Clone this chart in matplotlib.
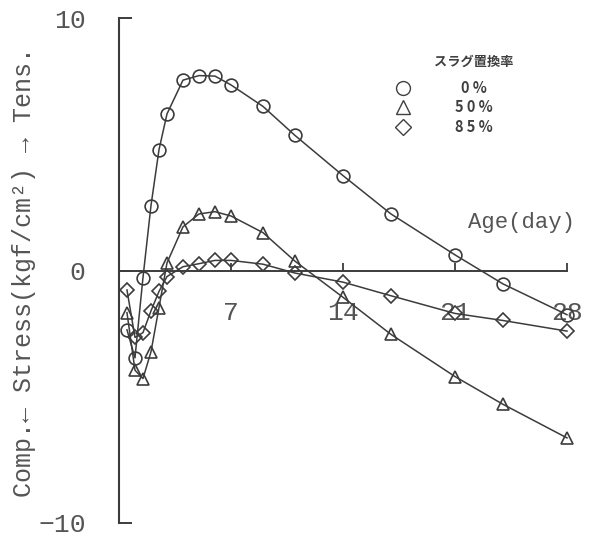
import matplotlib
matplotlib.use("Agg")
import matplotlib.pyplot as plt
from matplotlib import font_manager

# ---- data ----
days = [0.5, 1, 1.5, 2, 2.5, 3, 4, 5, 6, 7, 9, 11, 14, 17, 21, 24, 28]
slag_0 = [-2.35, -3.46, -0.28, 2.57, 4.78, 6.2, 7.54, 7.72, 7.7, 7.35, 6.5, 5.35,
          3.76, 2.24, 0.62, -0.53, -1.75]
slag_50 = [-1.67, -3.95, -4.28, -3.22, -1.47, 0.3, 1.73, 2.24, 2.33, 2.16, 1.5, 0.37,
           -1.06, -2.53, -4.2, -5.3, -6.63]
slag_85 = [-0.77, -2.65, -2.46, -1.6, -0.83, -0.24, 0.15, 0.27, 0.4, 0.4, 0.25, -0.1,
           -0.46, -1.0, -1.7, -1.98, -2.4]
series_labels = ["0%", "50%", "85%"]
legend_title = "スラグ置換率"
x_ticks = [7, 14, 21, 28]
x_tick_labels = ["7", "14", "21", "28"]
y_ticks = [-10, 0, 10]
y_tick_labels = ["\u221210", "0", "10"]
x_label = "Age(day)"
y_label = "Comp.\u2190 Stress(kgf/cm\u00b2) \u2192 Tens."

names = {f.name for f in font_manager.fontManager.ttflist}
mono = [n for n in ["Liberation Mono", "DejaVu Sans Mono"] if n in names] + ["DejaVu Sans"]
cjk = ["Noto Sans CJK JP", "DejaVu Sans"]

ink = "#3c3c3c"
txt = "#555555"

fig = plt.figure(figsize=(5.89, 5.38), dpi=100)
ax = fig.add_axes([0.2020, 0.0279, 0.7606, 0.9386])
ax.set_xlim(0, 28)
ax.set_ylim(-10, 10)

styles = [dict(marker="o", ms=9.2), dict(marker="^", ms=9.0), dict(marker="D", ms=6.8)]
for vals, st in zip([slag_0, slag_50, slag_85], styles):
    ax.plot(days, vals, color=ink, lw=1.1, mfc="none", mec=ink, mew=1.2,
            clip_on=False, zorder=3, **st)

for s in ["top", "right"]:
    ax.spines[s].set_visible(False)
ax.spines["bottom"].set_position(("data", 0))
ax.spines["bottom"].set_color(ink)
ax.spines["bottom"].set_linewidth(1.4)
ax.spines["left"].set_color(ink)
ax.spines["left"].set_linewidth(1.5)

ax.set_xticks(x_ticks)
ax.set_xticklabels(x_tick_labels, family=mono, fontsize=19, color=txt)
ax.set_yticks(y_ticks)
ax.set_yticklabels(y_tick_labels, family=mono, fontsize=19, color=txt)
ax.tick_params(axis="x", direction="in", length=6, width=1.3, color=ink, pad=22)
ax.tick_params(axis="y", direction="in", length=9, width=1.4, color=ink, pad=24)

fig.text(0.976, 0.587, x_label, family=mono, fontsize=16, color=txt,
         ha="right", va="center")
fig.text(0.040, 0.494, y_label, family=mono, fontsize=18, color=txt,
         rotation=90, ha="center", va="center")

# legend (manual layout)
fig.text(0.805, 0.885, legend_title, family=cjk, fontsize=9.5, fontweight="bold",
         color="#404040", ha="center", va="center")
leg_y = [0.836, 0.801, 0.764]
leg_m = [dict(marker="o", ms=10), dict(marker="^", ms=10), dict(marker="D", ms=8)]
for yy, lab, st in zip(leg_y, series_labels, leg_m):
    ax.plot([0.684], [yy], transform=fig.transFigure, color=ink, mfc="none",
            mec="#404040", mew=1.0, clip_on=False, linestyle="none", **st)
    fig.text(0.805, yy, " ".join(lab), family=cjk, fontsize=10.5, fontweight="bold",
             color="#404040", ha="center", va="center")

fig.savefig("out.png", dpi=100)
